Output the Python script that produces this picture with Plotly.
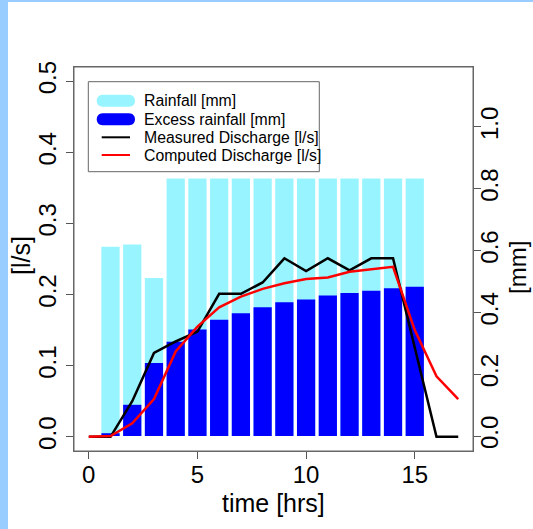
import plotly.graph_objects as go

# ---- data ----
hours = list(range(0, 18))
measured = [0.0, 0.0, 0.05, 0.118, 0.134, 0.148, 0.201, 0.201, 0.217, 0.251,
            0.233, 0.251, 0.234, 0.251, 0.251, 0.125, 0.0, 0.0]
computed = [0.0, 0.001, 0.019, 0.053, 0.12, 0.155, 0.182, 0.197, 0.208, 0.216,
            0.222, 0.224, 0.232, 0.236, 0.239, 0.150, 0.085, 0.053]
bar_hours = list(range(1, 16))
rainfall = [0.612, 0.620, 0.511] + [0.833] * 12
excess = [0.009, 0.101, 0.236, 0.305, 0.345, 0.376, 0.397, 0.417, 0.433,
          0.442, 0.455, 0.463, 0.470, 0.478, 0.483]
legend_labels = ["Rainfall [mm]", "Excess rainfall [mm]",
                 "Measured Discharge [l/s]", "Computed Discharge [l/s]"]

C_RAIN = "#98F5FF"
C_EXCESS = "#0000FF"
FONT = "Liberation Sans, Arial, sans-serif"

W, H = 533, 529
L, R, T, B = 74, 60, 67, 78
PW, PH = W - L - R, H - T - B


def px(x):
    return (x - L) / PW


def py(y):
    return (H - B - y) / PH


fig = go.Figure()
# bars on the primary (right-side, mm) axis so lines on the overlay axis draw on top
fig.add_trace(go.Bar(x=bar_hours, y=rainfall, width=0.84, marker_color=C_RAIN,
                     marker_line_width=0, yaxis="y", name=legend_labels[0]))
fig.add_trace(go.Bar(x=bar_hours, y=excess, width=0.84, marker_color=C_EXCESS,
                     marker_line_width=0, yaxis="y", name=legend_labels[1]))
fig.add_trace(go.Scatter(x=hours, y=measured, mode="lines", yaxis="y2",
                         line=dict(color="black", width=2.5), name=legend_labels[2]))
fig.add_trace(go.Scatter(x=hours, y=computed, mode="lines", yaxis="y2",
                         line=dict(color="#FF0000", width=2.5), name=legend_labels[3]))

TICK = 24
TITLE = 25


def axis_common():
    return dict(showgrid=False, zeroline=False, ticks="outside", ticklen=7,
                tickcolor="#555", linecolor="#666", linewidth=1, automargin=False,
                tickfont=dict(size=TICK, color="black", family=FONT))


fig.update_layout(
    width=W, height=H, margin=dict(l=L, r=R, t=T, b=B, pad=0, autoexpand=False),
    paper_bgcolor="white", plot_bgcolor="white", showlegend=False,
    barmode="overlay", font=dict(family=FONT, color="black"),
    xaxis=dict(range=[-0.68, 17.68], tickvals=[0, 5, 10, 15], showline=True,
               mirror=True, ticklabelstandoff=-5, **axis_common()),
    yaxis=dict(range=[-0.0485, 1.194], tickvals=[0, 0.2, 0.4, 0.6, 0.8, 1.0],
               tickformat=".1f", tickangle=-90, side="right", ticklabelstandoff=-12,
               showline=True, **axis_common()),
    yaxis2=dict(range=[-0.02, 0.52], tickvals=[0, 0.1, 0.2, 0.3, 0.4, 0.5],
                tickformat=".1f", tickangle=-90, side="left", overlaying="y",
                showline=True, **axis_common()),
)

shapes = []
# light-blue page border strips
shapes.append(dict(type="rect", xref="paper", yref="paper", x0=px(0), x1=px(8),
                   y0=py(H), y1=py(0), fillcolor="#99CCFF", line_width=0, layer="above"))
shapes.append(dict(type="rect", xref="paper", yref="paper", x0=px(0), x1=px(W + 10),
                   y0=py(2), y1=py(-2), fillcolor="#99CCFF", line_width=0, layer="above"))
# plot frame
shapes.append(dict(type="rect", xref="paper", yref="paper", x0=0, x1=1, y0=0, y1=1,
                   line=dict(color="#666", width=1), layer="above"))
# legend box
shapes.append(dict(type="rect", xref="paper", yref="paper", x0=px(88.3), x1=px(319.3),
                   y0=py(171.7), y1=py(81.7), fillcolor="white",
                   line=dict(color="#666", width=1), layer="above"))
rows_y = [100.7, 119.3, 137.3, 155.0]


def pill(x1, x2, yc, r, color):
    k = 1.333 * r
    yt, yb = py(yc - r), py(yc + r)
    p = (f"M {px(x1)},{yt} L {px(x2)},{yt} "
         f"C {px(x2 + k)},{yt} {px(x2 + k)},{yb} {px(x2)},{yb} "
         f"L {px(x1)},{yb} C {px(x1 - k)},{yb} {px(x1 - k)},{yt} {px(x1)},{yt} Z")
    return dict(type="path", xref="paper", yref="paper", path=p, fillcolor=color,
                line_width=0, layer="above")


shapes.append(pill(102.7, 129.0, rows_y[0], 6, C_RAIN))
shapes.append(pill(102.7, 129.0, rows_y[1], 6, C_EXCESS))
for yc, col in ((rows_y[2], "black"), (rows_y[3], "#FF0000")):
    shapes.append(dict(type="line", xref="paper", yref="paper", x0=px(101.7), x1=px(130),
                       y0=py(yc), y1=py(yc), line=dict(color=col, width=2), layer="above"))
fig.update_layout(shapes=shapes)

ann = []
for lab, yc in zip(legend_labels, rows_y):
    ann.append(dict(text=lab, xref="paper", yref="paper", x=px(142), y=py(yc),
                    xanchor="left", yanchor="middle", showarrow=False,
                    font=dict(size=15.8, family=FONT, color="black")))
# axis titles
ann.append(dict(text="time [hrs]", xref="paper", yref="paper", x=0.5, y=py(503),
                xanchor="center", yanchor="middle", showarrow=False,
                font=dict(size=TITLE, family=FONT, color="black")))
ann.append(dict(text="[l/s]", xref="paper", yref="paper", x=px(21), y=py(256), textangle=-90,
                xanchor="center", yanchor="middle", showarrow=False,
                font=dict(size=TITLE, family=FONT, color="black")))
ann.append(dict(text="[mm]", xref="paper", yref="paper", x=px(517), y=py(268), textangle=-90,
                xanchor="center", yanchor="middle", showarrow=False,
                font=dict(size=24, family=FONT, color="black")))
fig.update_layout(annotations=ann)

fig.write_html("out.html", config={"displayModeBar": False})
